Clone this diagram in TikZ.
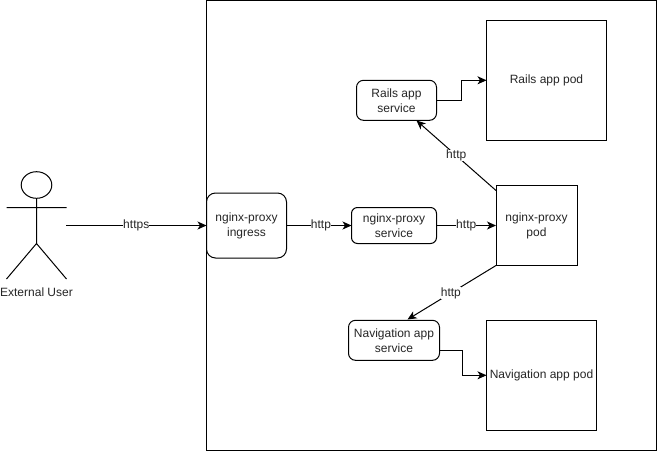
\documentclass[tikz,border=0pt]{standalone}
\usepackage{fontspec}
\setmainfont{Liberation Sans}
\usetikzlibrary{arrows.meta}
\tikzset{
  every node/.style={font=\fontsize{12}{15}\selectfont, text=black!85, outer sep=0pt},
  box/.style={draw=black, line width=1pt, rectangle, inner sep=0pt, align=center},
  roundbox/.style={box, rounded corners=6pt},
  conn/.style={draw=black, line width=1pt, -{Stealth[length=9pt,width=8pt,inset=2.5pt]}},
  lbl/.style={fill=white, inner sep=0pt},
  actorpart/.style={draw=black, line width=1pt}
}
\begin{document}
\begin{tikzpicture}[x=1pt,y=-1pt]
\useasboundingbox (0,0) rectangle (657,451);
\fill[white] (0,0) rectangle (657,451);
\node[box, minimum width=450pt, minimum height=450pt] (cluster) at (431,225) {};
\node[roundbox, rounded corners=9pt, minimum width=80pt, minimum height=65pt, fill=white] (ingress) at (246.5,225.5) {nginx-proxy\\ingress};
\node[roundbox, minimum width=85pt, minimum height=36pt] (nsvc) at (394,225.5) {nginx-proxy\\service};
\node[box, minimum width=81pt, minimum height=80pt] (npod) at (536.5,225.5) {nginx-proxy\\pod};
\node[roundbox, rounded corners=7pt, minimum width=80pt, minimum height=40pt] (rsvc) at (396.5,100.3) {Rails app\\service};
\node[box, minimum width=120pt, minimum height=120pt] (rpod) at (546.5,80.3) {Rails app pod};
\node[roundbox, rounded corners=7pt, minimum width=91pt, minimum height=40pt] (vsvc) at (394,340.3) {Navigation app\\service};
\node[box, minimum width=110pt, minimum height=110pt] (vpod) at (541.5,375.3) {Navigation app pod};
% actor
\node[minimum width=60pt, minimum height=108pt, inner sep=0pt] (actor) at (36,225.5) {};
\draw[actorpart] (36.5,185) ellipse [x radius=15.3, y radius=13.3];
\draw[actorpart] (36.5,198.3) -- (36.5,243.5)
  (6.5,207.5) -- (66.5,207.5)
  (6.5,279) -- (36.5,243.5) -- (66.5,279);
\node (actorlabel) at (36.5,292.5) {External User};
% connectors
\coordinate (rtip) at (416.5,120.5);
\coordinate (vtip) at (407.5,319.5);
\draw[conn] (actor.east) -- node[lbl] (l1) {https} (ingress.west);
\draw[conn] (ingress.east) -- node[lbl, pos=.53] (l2) {http} (nsvc.west);
\draw[conn] (nsvc.east) -- node[lbl] (l3) {http} (npod.west);
\draw[conn] ([yshift=-5pt]npod.north west) -- node[lbl] (l4) {http} (rtip);
\draw[conn] (npod.south west) -- node[lbl, pos=.51] (l5) {http} (vtip);
\draw[conn] (rsvc.east) -- (461.5,100.3) -- (461.5,80.3) -- (rpod.west);
\draw[conn] ([yshift=-10pt]vsvc.east) -- (462.5,350.3) -- (462.5,375.3) -- (vpod.west);
\end{tikzpicture}
\end{document}
